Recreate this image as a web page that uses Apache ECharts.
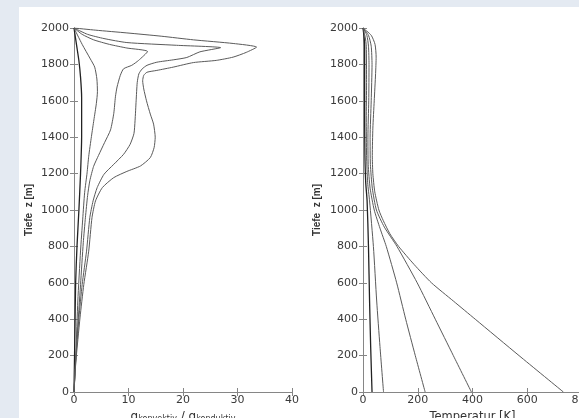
<!DOCTYPE html>
<html>
<head>
<meta charset="utf-8">
<script src="https://cdn.jsdelivr.net/npm/echarts@6/dist/echarts.min.js"></script>
<style>
  html, body { margin: 0; padding: 0; }
  #main { width: 579px; height: 418px; }
</style>
</head>
<body>
<div id="main"></div>
<script>
// Verhältnis konvektiv / konduktiv über die Tiefe, [wert, tiefe]
const q1 = [[0,2000],[0.5,1900],[0.9,1820],[1.2,1730],[1.4,1620],[1.4,1400],[1.2,1200],[0.9,1000],[0.55,800],[0.3,600],[0.15,300],[0,0]];
const q2 = [[0,2000],[1.5,1910],[3.0,1830],[3.8,1785],[4.2,1720],[4.3,1650],[4.1,1585],[3.65,1495],[3.2,1404],[2.7,1295],[2.4,1204],[1.95,1095],[1.6,950],[1.2,775],[0.7,500],[0.35,220],[0,0]];
const q3 = [[0,2000],[1.5,1965],[3.6,1935],[6.5,1910],[9.7,1890],[13.5,1871],[11.85,1822],[10.6,1795],[9.1,1776],[8.5,1740],[7.9,1676],[7.6,1622],[7.3,1531],[6.7,1440],[5.6,1370],[4.5,1300],[3.6,1240],[2.9,1160],[2.5,1080],[2.1,960],[1.7,820],[1.2,590],[0.6,315],[0,0]];
const q4 = [[0,2000],[2.5,1965],[5.5,1942],[9.7,1920],[18.8,1905],[26.9,1892],[23.1,1869],[20.7,1838],[18.2,1825],[15.2,1812],[13.4,1795],[12.5,1775],[11.9,1748],[11.6,1700],[11.4,1600],[11.2,1490],[11.0,1420],[10.3,1361],[9.1,1306],[7.3,1251],[5.5,1196],[4.25,1123],[3.5,1050],[2.9,958],[2.3,774],[1.5,591],[0.9,407],[0.3,169],[0,0]];
const q5 = [[0,2000],[4,1988],[9.7,1973],[16,1955],[21.9,1935],[29.2,1915],[33.5,1895],[31.6,1866],[29.2,1840],[26.1,1822],[21.9,1810],[18.2,1785],[15.2,1767],[13.4,1757],[12.8,1740],[12.6,1710],[12.8,1665],[13.3,1600],[14.0,1527],[14.6,1472],[14.9,1400],[14.7,1343],[14.0,1288],[12.2,1242],[9.7,1212],[7.3,1178],[5.2,1123],[3.95,1050],[3.3,958],[2.7,774],[1.8,591],[1.1,407],[0.35,169],[0,0]];

// Temperatur über die Tiefe, [T, tiefe]
const t1 = [[0,2000],[4,1950],[6,1900],[6,1700],[6,1500],[7,1300],[10,1150],[15,1050],[20,800],[24,500],[28,250],[33,0]];
const t2 = [[0,2000],[8,1950],[12,1900],[13,1700],[12,1500],[13,1300],[17,1150],[24,1050],[38,800],[50,500],[62,250],[75,0]];
const t3 = [[0,2000],[14,1960],[20,1900],[22,1800],[21,1600],[18,1400],[19,1250],[26,1120],[41,1000],[62,900],[85,800],[123,600],[156,400],[191,200],[227,0]];
const t4 = [[0,2000],[20,1960],[30,1900],[33,1800],[30,1600],[26,1400],[27,1250],[34,1120],[49,1000],[78,906],[124,800],[198,600],[264,400],[330,200],[396,0]];
const t5 = [[0,2000],[30,1960],[44,1910],[48,1840],[46,1750],[41,1600],[36,1450],[34,1300],[36,1200],[43,1100],[58,1000],[74,942],[98,870],[130,800],[187,700],[250,600],[330,500],[410,400],[570,200],[732,0]];

const qCurves = [q1, q2, q3, q4, q5];
const tCurves = [t1, t2, t3, t4, t5];

const chart = echarts.init(document.getElementById('main'));

const frame = '#868686';
const labelFont = { color: '#3a3a3a', fontSize: 11, fontFamily: 'DejaVu Sans', formatter: function (v) { return String(v); } };

function yAxes(grid, nameGap) {
  return [{
    gridIndex: grid, type: 'value', min: 0, max: 2000, interval: 200, position: 'left',
    name: 'Tiefe  z [m]', nameLocation: 'middle', nameGap: nameGap, nameRotate: 90,
    nameTextStyle: { color: '#333', fontSize: 10, fontWeight: 'bold', fontFamily: 'Liberation Sans' },
    axisLine: { show: true, lineStyle: { color: frame } },
    axisTick: { show: true, inside: true, length: 4, lineStyle: { color: frame } },
    axisLabel: Object.assign({ margin: 5 }, labelFont),
    splitLine: { show: false }
  }, {
    gridIndex: grid, type: 'value', min: 0, max: 2000, interval: 200, position: 'right',
    axisLine: { show: true, lineStyle: { color: frame } },
    axisTick: { show: true, inside: true, length: 4, lineStyle: { color: frame } },
    axisLabel: { show: false }, splitLine: { show: false }
  }];
}

function xAxes(grid, max, interval, name, nameGap, rich) {
  return [{
    gridIndex: grid, type: 'value', min: 0, max: max, interval: interval, position: 'bottom',
    name: name, nameLocation: 'middle', nameGap: nameGap,
    nameTextStyle: { color: '#333', fontSize: 11.5, fontFamily: 'DejaVu Sans', rich: rich },
    axisLine: { show: true, lineStyle: { color: frame } },
    axisTick: { show: true, inside: true, length: 4, lineStyle: { color: frame } },
    axisLabel: Object.assign({ margin: 3 }, labelFont),
    splitLine: { show: false }
  }, {
    gridIndex: grid, type: 'value', min: 0, max: max, interval: interval, position: 'top',
    axisLine: { show: true, lineStyle: { color: frame } },
    axisTick: { show: true, inside: true, length: 4, lineStyle: { color: frame } },
    axisLabel: { show: false }, splitLine: { show: false }
  }];
}

const subRich = {
  q: { fontSize: 12, fontFamily: 'DejaVu Sans', color: '#333', lineHeight: 12, verticalAlign: 'top' },
  s: { fontSize: 8, fontFamily: 'DejaVu Sans', color: '#333', lineHeight: 9, padding: [4, 0, 0, 0] }
};

const series = [];
qCurves.forEach(function (d, i) {
  series.push({
    type: 'line', xAxisIndex: 0, yAxisIndex: 0, data: d, showSymbol: false, smooth: 0.2,
    lineStyle: { color: i === 0 ? '#222' : '#5a5a5a', width: i === 0 ? 1.3 : 1 }, silent: true
  });
});
tCurves.forEach(function (d, i) {
  series.push({
    type: 'line', xAxisIndex: 2, yAxisIndex: 2, data: d, showSymbol: false, smooth: 0.2,
    lineStyle: { color: i === 0 ? '#222' : '#5a5a5a', width: i === 0 ? 1.3 : 1 }, silent: true
  });
});

chart.setOption({
  backgroundColor: '#e4eaf2',
  animation: false,
  graphic: [{
    type: 'rect', left: 19, top: 7, z: -10,
    shape: { width: 560, height: 411 }, style: { fill: '#ffffff' }
  }],
  grid: [
    { left: 74, top: 28, width: 218, height: 364, outerBoundsMode: 'none', containLabel: false },
    { left: 363, top: 28, width: 219, height: 364, outerBoundsMode: 'none', containLabel: false }
  ],
  xAxis: xAxes(0, 40, 10, '{q|q}{s|konvektiv}{q| / q}{s|konduktiv}', 14, subRich)
    .concat(xAxes(1, 800, 200, 'Temperatur [K]', 10, null)),
  yAxis: yAxes(0, 40).concat(yAxes(1, 41)),
  series: series
});
</script>
</body>
</html>
